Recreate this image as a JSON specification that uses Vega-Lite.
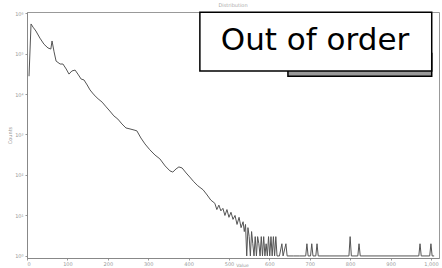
{
  "$schema": "https://vega.github.io/schema/vega-lite/v6.json",
  "autosize": "none",
  "width": 412,
  "height": 246,
  "padding": {"left": 27, "top": 12, "right": 3, "bottom": 10},
  "background": "white",
  "config": {
    "view": {"stroke": "#999", "strokeWidth": 1},
    "font": "DejaVu Sans",
    "axis": {"grid": false, "domainColor": "#888", "tickColor": "#999", "tickSize": 2, "labelFontSize": 5, "labelColor": "#999", "titleFontSize": 5, "titleColor": "#999", "titleFontWeight": "normal", "labelPadding": 2}
  },
  "title": {"text": "Distribution", "fontSize": 5, "color": "#aaa", "fontWeight": "normal", "offset": 3},
  "datasets": {
    "hist": [
      {"x":5,"y":27500},{"x":10,"y":537000},{"x":15,"y":447000},{"x":22,"y":360000},{"x":32,"y":240000},{"x":42,"y":170000},{"x":52,"y":137000},{"x":59,"y":129000},{"x":62,"y":204000},{"x":67,"y":110000},{"x":72,"y":65000},{"x":82,"y":55000},{"x":89,"y":55000},{"x":97,"y":41500},{"x":104,"y":31000},{"x":111,"y":37000},{"x":119,"y":39000},{"x":126,"y":31000},{"x":134,"y":23400},{"x":141,"y":22300},{"x":149,"y":16700},{"x":156,"y":12600},{"x":166,"y":9500},{"x":176,"y":7600},{"x":186,"y":6300},{"x":196,"y":4800},{"x":205,"y":3800},{"x":215,"y":2880},{"x":225,"y":2400},{"x":235,"y":1820},{"x":245,"y":1450},{"x":255,"y":1370},{"x":265,"y":1290},{"x":272,"y":1230},{"x":282,"y":820},{"x":292,"y":585},{"x":304,"y":420},{"x":317,"y":310},{"x":329,"y":250},{"x":342,"y":167},{"x":354,"y":126},{"x":361,"y":118},{"x":369,"y":141},{"x":376,"y":158},{"x":384,"y":149},{"x":394,"y":112},{"x":403,"y":89},{"x":413,"y":68},{"x":423,"y":54},{"x":436,"y":43},{"x":446,"y":32},{"x":455,"y":24},{"x":465,"y":20},{"x":470,"y":14},{"x":475,"y":18},{"x":480,"y":13},{"x":485,"y":15},{"x":490,"y":10},{"x":495,"y":14},{"x":500,"y":9},{"x":505,"y":12},{"x":510,"y":8},{"x":515,"y":10},{"x":520,"y":6},{"x":525,"y":9},{"x":530,"y":5},{"x":535,"y":7},{"x":538,"y":4},{"x":541,"y":6},{"x":544,"y":1},{"x":547,"y":5},{"x":550,"y":3},{"x":553,"y":1},{"x":556,"y":4},{"x":559,"y":2},{"x":562,"y":1},{"x":565,"y":3},{"x":568,"y":1},{"x":571,"y":3},{"x":574,"y":2},{"x":577,"y":1},{"x":580,"y":3},{"x":583,"y":1},{"x":586,"y":3},{"x":589,"y":1},{"x":592,"y":2},{"x":595,"y":1},{"x":598,"y":3},{"x":601,"y":1},{"x":604,"y":3},{"x":607,"y":1},{"x":610,"y":3},{"x":613,"y":1},{"x":616,"y":3},{"x":619,"y":1},{"x":625,"y":1},{"x":631,"y":2},{"x":634,"y":1},{"x":641,"y":2},{"x":644,"y":1},{"x":660,"y":1},{"x":675,"y":1},{"x":690,"y":1},{"x":693,"y":2},{"x":696,"y":1},{"x":702,"y":1},{"x":705,"y":2},{"x":708,"y":1},{"x":715,"y":1},{"x":718,"y":2},{"x":721,"y":1},{"x":750,"y":1},{"x":797,"y":1},{"x":800,"y":3},{"x":803,"y":1},{"x":819,"y":1},{"x":822,"y":2},{"x":825,"y":1},{"x":970,"y":1},{"x":973,"y":2},{"x":976,"y":1},{"x":997,"y":1},{"x":1000,"y":2},{"x":1003,"y":1},{"x":1008,"y":1}
    ],
    "shadow": [{"x": 646, "x2": 1002, "y": 100000, "y2": 27500}],
    "box": [{"x": 428, "x2": 1002, "y": 1050000, "y2": 37000}],
    "label": [{"x": 713, "y": 204000, "text": "Out of order"}]
  },
  "layer": [
    {
      "data": {"name": "hist"},
      "mark": {"type": "line", "color": "#555", "strokeWidth": 1, "clip": true},
      "encoding": {
        "x": {"field": "x", "type": "quantitative", "title": "Value",
              "scale": {"domain": [0, 1020], "nice": false},
              "axis": {"values": [0,100,200,300,400,500,600,700,800,900,1000], "labelPadding": 1, "titleFontSize": 4.5, "titleBaseline": "bottom", "titleY": 9, "titleX": 215}},
        "y": {"field": "y", "type": "quantitative", "title": "Counts",
              "scale": {"type": "log", "domain": [0.89, 1060000], "nice": false},
              "axis": {"values": [1,10,100,1000,10000,100000,1000000], "labelExpr": "'10' + ['⁰','¹','²','³','⁴','⁵','⁶'][round(log(datum.value)/LN10)]", "titlePadding": 2}}
      }
    },
    {
      "data": {"name": "shadow"},
      "mark": {"type": "rect", "fill": "#999", "stroke": "#000", "strokeWidth": 1.5},
      "encoding": {
        "x": {"field": "x", "type": "quantitative"},
        "x2": {"field": "x2"},
        "y": {"field": "y", "type": "quantitative"},
        "y2": {"field": "y2"}
      }
    },
    {
      "data": {"name": "box"},
      "mark": {"type": "rect", "fill": "white", "stroke": "#000", "strokeWidth": 1.5},
      "encoding": {
        "x": {"field": "x", "type": "quantitative"},
        "x2": {"field": "x2"},
        "y": {"field": "y", "type": "quantitative"},
        "y2": {"field": "y2"}
      }
    },
    {
      "data": {"name": "label"},
      "mark": {"type": "text", "font": "DejaVu Sans", "fontSize": 31, "color": "#000", "align": "center", "baseline": "middle"},
      "encoding": {
        "x": {"field": "x", "type": "quantitative"},
        "y": {"field": "y", "type": "quantitative"},
        "text": {"field": "text"}
      }
    }
  ]
}
